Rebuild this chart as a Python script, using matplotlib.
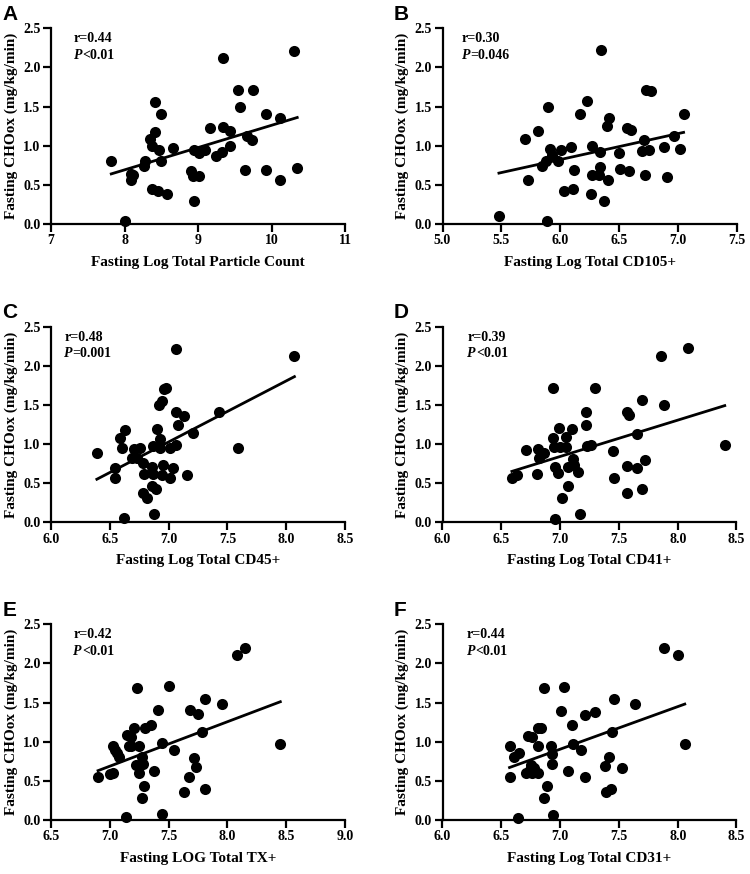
import matplotlib
matplotlib.use('Agg')
import matplotlib.pyplot as plt
from matplotlib.ticker import FormatStrFormatter
import numpy as np

# ---- data ----
# A: log total particle count
a_x = [7.82, 10.30, 9.34, 9.54, 9.75, 9.57, 8.42, 8.50, 9.92, 10.12, 9.17, 9.34, 9.44, 8.42,
       8.35, 9.67, 9.74, 8.38, 8.47, 8.66, 8.94, 9.01, 9.10, 9.44, 9.25, 9.33, 8.28, 8.50,
       8.27, 8.09, 8.11, 8.09, 8.90, 8.93, 9.02, 9.64, 9.92, 10.35, 10.11, 8.38, 8.46, 8.58,
       8.95, 8.01]
a_y = [0.81, 2.21, 2.12, 1.71, 1.71, 1.49, 1.56, 1.41, 1.40, 1.35, 1.23, 1.24, 1.19, 1.18,
       1.09, 1.12, 1.07, 0.99, 0.94, 0.97, 0.95, 0.91, 0.95, 0.99, 0.87, 0.92, 0.80, 0.80,
       0.74, 0.64, 0.62, 0.56, 0.68, 0.61, 0.61, 0.69, 0.69, 0.71, 0.56, 0.45, 0.42, 0.38,
       0.29, 0.04]
# B: CD105+
b_x = [5.48, 5.89, 5.70, 5.81, 5.90, 5.73, 5.91, 5.85, 5.88, 5.93, 5.98, 6.01, 6.09, 6.12,
       6.03, 6.11, 6.17, 6.23, 6.27, 6.27, 6.26, 6.33, 6.34, 6.34, 6.35, 6.37, 6.40, 6.42,
       6.41, 6.50, 6.51, 6.57, 6.60, 6.59, 6.71, 6.70, 6.72, 6.73, 6.77, 6.76, 6.88, 6.91,
       6.97, 7.02, 7.05]
b_y = [0.10, 0.04, 1.09, 1.19, 1.49, 0.56, 0.96, 0.74, 0.81, 0.88, 0.81, 0.95, 0.98, 0.69,
       0.42, 0.45, 1.41, 1.57, 1.00, 0.63, 0.38, 0.63, 0.73, 0.92, 2.22, 0.30, 1.25, 1.36,
       0.56, 0.91, 0.70, 1.23, 1.20, 0.68, 1.07, 0.93, 0.62, 1.71, 1.70, 0.95, 0.98, 0.60,
       1.12, 0.96, 1.41]
# C: CD45+
c_x = [6.39, 6.54, 6.54, 6.62, 6.63, 6.59, 6.60, 6.71, 6.69, 6.76, 6.73, 6.78, 6.79, 6.78,
       6.82, 6.86, 6.86, 6.89, 6.88, 6.87, 6.87, 6.90, 6.93, 6.93, 6.95, 6.94, 6.92, 6.94,
       6.96, 6.98, 7.01, 7.01, 7.04, 7.06, 7.06, 7.06, 7.08, 7.13, 7.16, 7.21, 7.43, 7.59,
       8.07]
c_y = [0.88, 0.69, 0.57, 0.05, 1.18, 1.08, 0.95, 0.93, 0.82, 0.95, 0.82, 0.76, 0.62, 0.38,
       0.31, 0.71, 0.46, 0.42, 0.10, 0.62, 0.97, 1.19, 1.06, 0.95, 0.73, 0.60, 1.50, 1.55,
       1.70, 1.72, 0.95, 0.57, 0.69, 0.99, 2.21, 1.41, 1.24, 1.36, 0.61, 1.14, 1.41, 0.95,
       2.12]
# D: CD41+
d_x = [6.59, 6.63, 6.71, 6.80, 6.81, 6.82, 6.86, 6.94, 6.94, 6.95, 6.96, 6.98, 6.99, 6.96,
       7.02, 7.00, 7.05, 7.05, 7.07, 7.07, 7.10, 7.11, 7.12, 7.15, 7.17, 7.22, 7.22, 7.23,
       7.26, 7.30, 7.45, 7.46, 7.57, 7.57, 7.57, 7.59, 7.65, 7.65, 7.70, 7.70, 7.72, 7.86,
       7.88, 8.09, 8.40]
d_y = [0.57, 0.61, 0.92, 0.62, 0.94, 0.82, 0.88, 1.71, 1.08, 0.96, 0.71, 0.63, 1.20, 0.04,
       0.31, 0.96, 1.09, 0.96, 0.70, 0.46, 1.19, 0.81, 0.73, 0.64, 0.10, 1.41, 1.24, 0.97,
       0.99, 1.71, 0.91, 0.57, 0.72, 0.38, 1.41, 1.37, 1.13, 0.69, 1.56, 0.42, 0.80, 2.13,
       1.50, 2.22, 0.99]
# E: TX+
e_x = [6.90, 7.00, 7.03, 7.03, 7.04, 7.06, 7.08, 7.14, 7.15, 7.18, 7.16, 7.18, 7.21, 7.23,
       7.22, 7.25, 7.25, 7.27, 7.28, 7.27, 7.29, 7.30, 7.35, 7.38, 7.41, 7.44, 7.44, 7.50,
       7.55, 7.63, 7.68, 7.67, 7.75, 7.72, 7.73, 7.78, 7.81, 7.81, 7.95, 8.08, 8.15, 8.45]
e_y = [0.55, 0.59, 0.60, 0.94, 0.89, 0.85, 0.80, 0.04, 1.08, 1.06, 0.95, 0.95, 1.18, 1.69,
       0.70, 0.95, 0.60, 0.81, 0.71, 0.28, 0.43, 1.17, 1.21, 0.63, 1.40, 0.98, 0.08, 1.71,
       0.90, 0.36, 1.40, 0.55, 1.35, 0.79, 0.68, 1.12, 0.40, 1.55, 1.48, 2.11, 2.20, 0.97]
# F: CD31+
f_x = [6.57, 6.57, 6.61, 6.65, 6.64, 6.73, 6.76, 6.81, 6.84, 6.86, 6.81, 6.71, 6.74, 6.76,
       6.78, 6.81, 6.75, 6.86, 6.89, 6.92, 6.93, 6.93, 6.94, 7.01, 7.03, 7.07, 7.10, 7.11,
       7.18, 7.21, 7.21, 7.30, 7.38, 7.39, 7.42, 7.43, 7.44, 7.46, 7.53, 7.64, 7.88, 8.00,
       8.06]
f_y = [0.55, 0.94, 0.80, 0.85, 0.03, 1.07, 1.06, 1.18, 1.18, 1.69, 0.94, 0.60, 0.64, 0.60,
       0.66, 0.60, 0.70, 0.28, 0.43, 0.95, 0.84, 0.72, 0.07, 1.39, 1.70, 0.63, 1.21, 0.97,
       0.89, 1.34, 0.55, 1.38, 0.69, 0.36, 0.80, 0.39, 1.12, 1.55, 0.66, 1.48, 2.20, 2.11,
       0.97]

# regression line ends (x0, x1, y0, y1)
fit_a = [7.82, 10.35, 0.64, 1.36]
fit_b = [5.48, 7.05, 0.65, 1.17]
fit_c = [6.39, 8.07, 0.55, 1.86]
fit_d = [6.59, 8.40, 0.65, 1.49]
fit_e = [6.90, 8.45, 0.63, 1.51]
fit_f = [6.57, 8.06, 0.67, 1.48]

letters = ['A', 'B', 'C', 'D', 'E', 'F']
xlabels = ['Fasting Log Total Particle Count', 'Fasting Log Total CD105+',
           'Fasting Log Total CD45+', 'Fasting Log Total CD41+',
           'Fasting LOG Total TX+', 'Fasting Log Total CD31+']
r_text = ['r=0.44', 'r=0.30', 'r=0.48', 'r=0.39', 'r=0.42', 'r=0.44']
p_text = ['<0.01', '=0.046', '=0.001', '<0.01', '<0.01', '<0.01']
xlims = [(7, 11), (5.0, 7.5), (6.0, 8.5), (6.0, 8.5), (6.5, 9.0), (6.0, 8.5)]
xsteps = [1, 0.5, 0.5, 0.5, 0.5, 0.5]
xs = [a_x, b_x, c_x, d_x, e_x, f_x]
ys = [a_y, b_y, c_y, d_y, e_y, f_y]
fits = [fit_a, fit_b, fit_c, fit_d, fit_e, fit_f]
text_x = [0.078, 0.066, 0.045, 0.085, 0.076, 0.082]

serif = 'Liberation Serif'
fig = plt.figure(figsize=(7.5, 8.74), dpi=100)

lefts = [0.068, 0.590]
bottoms = [0.7437, 0.4024, 0.0618]
w, h = 0.392, 0.224

for i in range(6):
    row, col = divmod(i, 2)
    ax = fig.add_axes([lefts[col], bottoms[row], w, h])
    ax.scatter(xs[i], ys[i], s=64, color='black', zorder=3, clip_on=False, linewidths=0)
    f = fits[i]
    ax.plot([f[0], f[1]], [f[2], f[3]], color='black', lw=2.0, zorder=2)

    ax.set_xlim(*xlims[i])
    ax.set_ylim(0, 2.5)
    ax.set_xticks(np.arange(xlims[i][0], xlims[i][1] + 0.01, xsteps[i]))
    ax.set_yticks(np.arange(0, 2.51, 0.5))
    ax.yaxis.set_major_formatter(FormatStrFormatter('%.1f'))
    if xsteps[i] < 1:
        ax.xaxis.set_major_formatter(FormatStrFormatter('%.1f'))
    for s in ['top', 'right']:
        ax.spines[s].set_visible(False)
    for s in ['left', 'bottom']:
        ax.spines[s].set_linewidth(1.6)
    ax.tick_params(width=1.6, length=6, direction='out', labelsize=10, pad=1.5)
    for lab in ax.get_xticklabels() + ax.get_yticklabels():
        lab.set_fontfamily(serif)
        lab.set_fontweight('bold')

    ax.set_xlabel(xlabels[i], fontfamily=serif, fontweight='bold', fontsize=11, labelpad=6)
    ax.set_ylabel('Fasting CHOox (mg/kg/min)', fontfamily=serif, fontweight='bold',
                  fontsize=11, labelpad=4)

    ax.text(text_x[i], 0.945, r_text[i], transform=ax.transAxes, fontfamily=serif,
            fontweight='bold', fontsize=10, va='center')
    tp = ax.text(text_x[i], 0.862, 'P', transform=ax.transAxes, fontfamily=serif,
                 fontweight='bold', fontstyle='italic', fontsize=10, va='center')
    ax.annotate(p_text[i], xy=(1, 0), xycoords=tp, va='bottom', ha='left',
                fontfamily=serif, fontweight='bold', fontsize=10)

    ax.text(-0.165, 1.07, letters[i], transform=ax.transAxes, fontfamily='Liberation Sans',
            fontweight='bold', fontsize=15, va='center', ha='left')

fig.savefig('out.png', dpi=100)
